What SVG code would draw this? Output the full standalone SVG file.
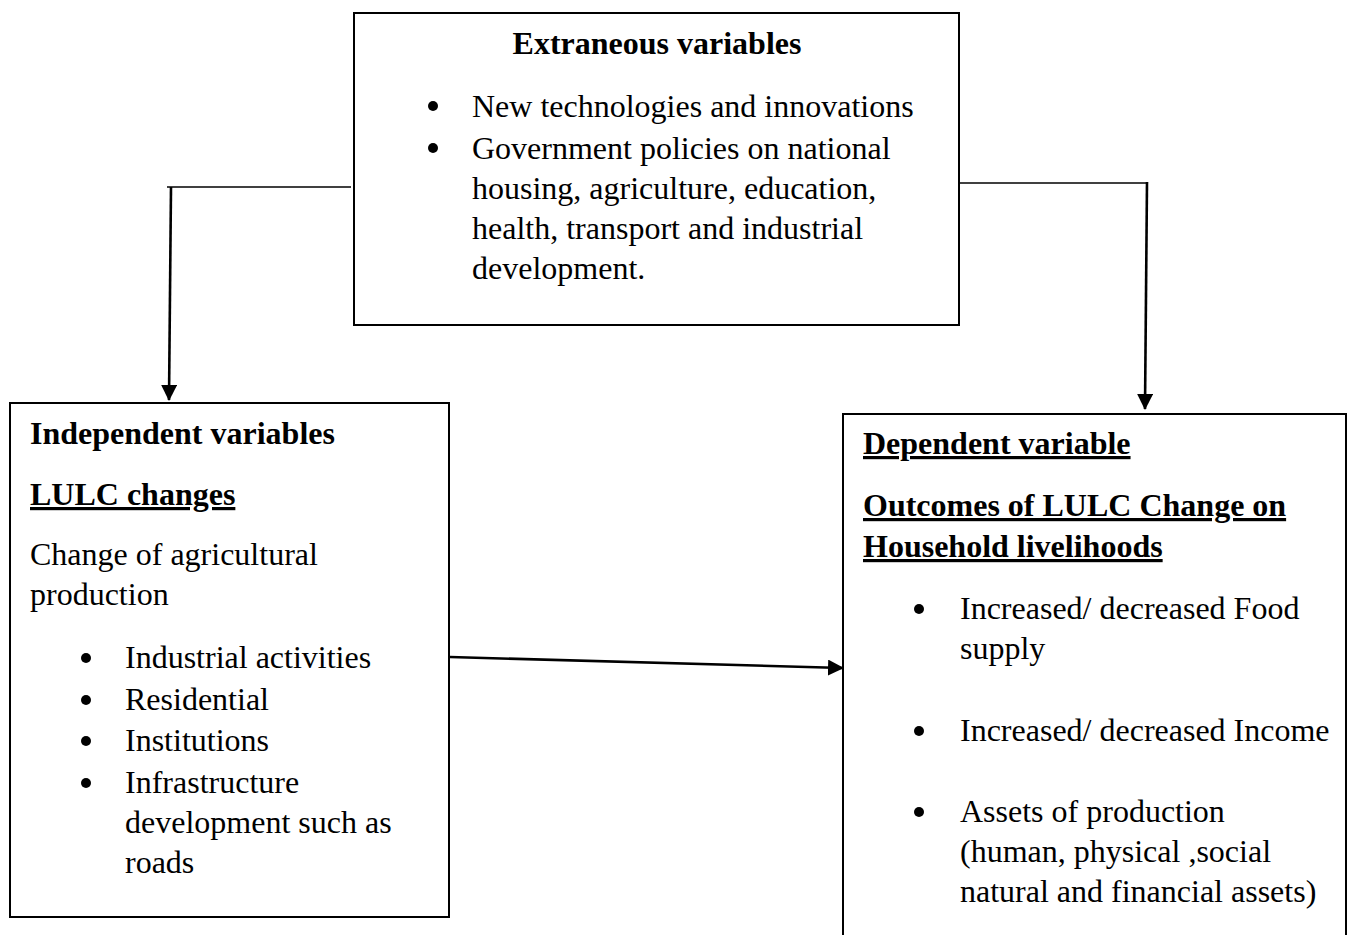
<svg xmlns="http://www.w3.org/2000/svg" width="1350" height="935" viewBox="0 0 1350 935">
<style>
.box{fill:#fff;stroke:#000;stroke-width:2}
.t{font-family:"Liberation Serif","Times New Roman",serif;font-size:32px;fill:#000}
.b{font-weight:bold}
.u{text-decoration:underline}
.conn{stroke:#000;fill:none}
.thin{stroke-width:1.3}
.thick{stroke-width:2.6}
.dot{fill:#000}
</style>
<defs>
<marker id="ah" markerUnits="userSpaceOnUse" markerWidth="16" markerHeight="16" viewBox="0 0 16 16" refX="15" refY="8" orient="auto">
<path d="M0,0 L16,8 L0,16 Z" fill="#000"/>
</marker>
</defs>
<rect width="1350" height="935" fill="#fff"/>
<g id="connectors">
<line class="conn thin" x1="167" y1="187" x2="351" y2="187"/>
<line class="conn thick" x1="171" y1="187" x2="169" y2="400" marker-end="url(#ah)"/>
<line class="conn thin" x1="960" y1="183" x2="1147" y2="183"/>
<line class="conn thick" x1="1147" y1="182" x2="1145" y2="409" marker-end="url(#ah)"/>
<line class="conn thick" x1="450" y1="657" x2="843" y2="668" marker-end="url(#ah)"/>
</g>
<g id="extraneous">
<rect class="box" x="354" y="13" width="605" height="312"/>
<text class="t b" x="657" y="54" text-anchor="middle">Extraneous variables</text>
<circle class="dot" cx="433" cy="106" r="5"/>
<text class="t" x="472" y="117">New technologies and innovations</text>
<circle class="dot" cx="433" cy="148" r="5"/>
<text class="t" x="472" y="159">Government policies on national</text>
<text class="t" x="472" y="199">housing, agriculture, education,</text>
<text class="t" x="472" y="239">health, transport and industrial</text>
<text class="t" x="472" y="279">development.</text>
</g>
<g id="independent">
<rect class="box" x="10" y="403" width="439" height="514"/>
<text class="t b" x="30" y="444">Independent variables</text>
<text class="t b u" x="30" y="505">LULC changes</text>
<text class="t" x="30" y="565">Change of agricultural</text>
<text class="t" x="30" y="605">production</text>
<circle class="dot" cx="86" cy="658" r="5"/>
<text class="t" x="125" y="668">Industrial activities</text>
<circle class="dot" cx="86" cy="700" r="5"/>
<text class="t" x="125" y="710">Residential</text>
<circle class="dot" cx="86" cy="741" r="5"/>
<text class="t" x="125" y="751">Institutions</text>
<circle class="dot" cx="86" cy="783" r="5"/>
<text class="t" x="125" y="793">Infrastructure</text>
<text class="t" x="125" y="833">development such as</text>
<text class="t" x="125" y="873">roads</text>
</g>
<g id="dependent">
<rect class="box" x="843" y="414" width="503" height="540"/>
<text class="t b u" x="863" y="454">Dependent variable</text>
<text class="t b u" x="863" y="516">Outcomes of LULC Change on</text>
<text class="t b u" x="863" y="557">Household livelihoods</text>
<circle class="dot" cx="919" cy="609" r="5"/>
<text class="t" x="960" y="619">Increased/ decreased Food</text>
<text class="t" x="960" y="659">supply</text>
<circle class="dot" cx="919" cy="731" r="5"/>
<text class="t" x="960" y="741">Increased/ decreased Income</text>
<circle class="dot" cx="919" cy="812" r="5"/>
<text class="t" x="960" y="822">Assets of production</text>
<text class="t" x="960" y="862">(human, physical ,social</text>
<text class="t" x="960" y="902">natural and financial assets)</text>
</g>
</svg>
